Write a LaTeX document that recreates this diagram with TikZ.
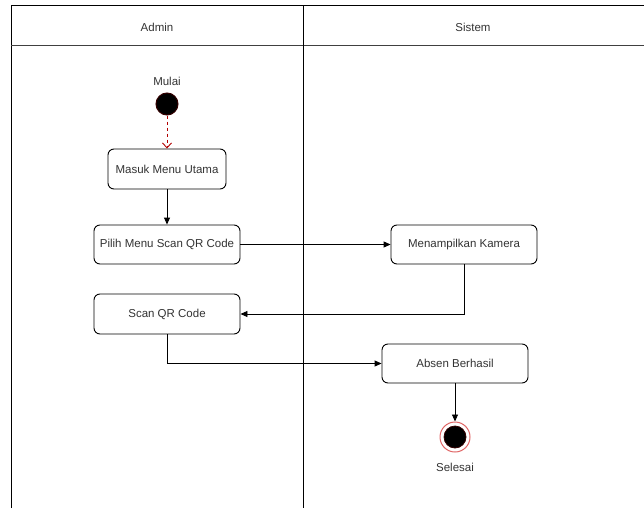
\documentclass[tikz,border=0pt]{standalone}
\usepackage{fontspec}
\setmainfont{Liberation Sans}
\usetikzlibrary{arrows.meta,positioning}
\definecolor{txt}{HTML}{333333}
\definecolor{startred}{HTML}{330000}
\definecolor{dashred}{HTML}{B20000}
\definecolor{ringred}{HTML}{E06666}
\begin{document}
\begin{tikzpicture}[x=1pt,y=-1pt,
  every node/.style={font=\fontsize{11.5}{13}\selectfont, text=txt},
  actbox/.style={draw=black, line width=0.9pt, rounded corners=6pt, fill=white, minimum width=146pt, minimum height=39pt, inner sep=0pt},
  flow/.style={draw=black, line width=0.9pt, -{Triangle[length=7pt,width=6pt]}},
  lane/.style={draw=black, line width=1pt}
]
\useasboundingbox (0,0) rectangle (644,508);
% swimlanes
\draw[lane] (11,508) -- (11,6) -- (644,6);
\draw[lane, draw=black!75] (11,46) -- (644,46);
\draw[lane] (303,6) -- (303,508);
\node (admin) at (157,27) {Admin};
\node (sistem) at (473,27) {Sistem};
% start
\node (mulai) at (167,81) {Mulai};
\node[circle, fill=black, draw=startred, line width=1pt, minimum size=22pt, inner sep=0pt] (start) at (167,104) {};
% activities
\node[actbox, minimum width=118pt, minimum height=40pt] (masuk) at (167,169) {Masuk Menu Utama};
\node[actbox] (pilih) at (167,244.5) {Pilih Menu Scan QR Code};
\node[actbox] (kamera) at (464,244.5) {Menampilkan Kamera};
\node[actbox, minimum height=40pt] (scan) at (167,314) {Scan QR Code};
\node[actbox] (absen) at (455,363.5) {Absen Berhasil};
% end
\node[circle, fill=white, draw=ringred, line width=1pt, minimum size=30pt, inner sep=0pt] (end) at (455,437) {};
\node[circle, fill=black, draw=startred, line width=0.8pt, minimum size=22pt, inner sep=0pt] (endin) at (455,437) {};
\node (selesai) at (455,467) {Selesai};
% connectors
\draw[dashred, dashed, line width=0.9pt, -{Straight Barb[length=5pt,width=9pt]}] (start) -- (masuk);
\draw[flow] (masuk) -- (pilih);
\draw[flow] (pilih) -- (kamera);
\draw[flow] (kamera.south) |- (scan.east);
\draw[flow] (scan.south) |- (absen.west);
\draw[flow] (absen) -- (end);
\end{tikzpicture}
\end{document}
